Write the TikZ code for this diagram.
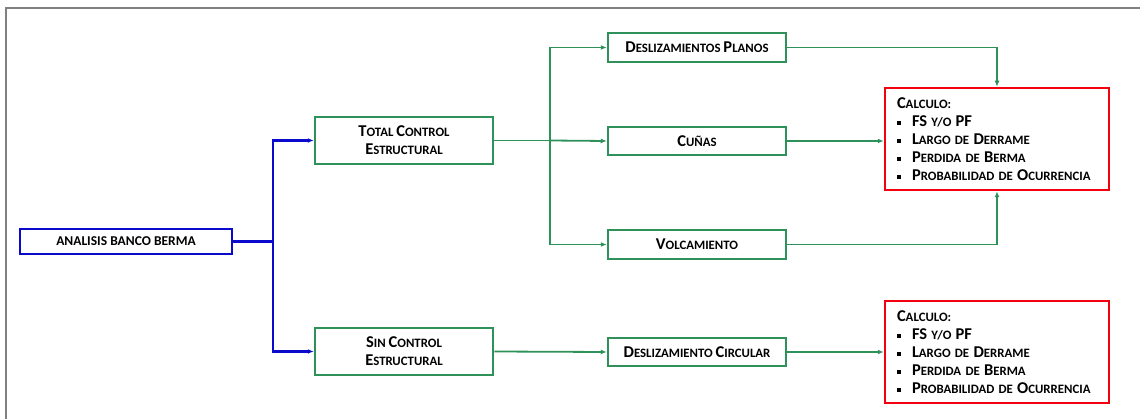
\documentclass[tikz,border=0pt]{standalone}
\usepackage{fontspec}
\setmainfont{Carlito}
\usetikzlibrary{arrows.meta}

\definecolor{verde}{RGB}{46,145,90}
\definecolor{azul}{RGB}{10,10,205}
\definecolor{rojo}{RGB}{245,0,15}
\definecolor{marco}{RGB}{128,128,128}

% initials of the small-caps labels
\newcommand{\ini}[1]{{\fontsize{16.5}{18}\selectfont #1}}
\newcommand{\punto}[1]{\makebox[15pt][l]{\rule[1.5pt]{4pt}{4pt}}#1}

\tikzset{
  caja/.style = {draw = verde, line width = 2.5pt, minimum width = 178pt, inner sep = 0pt,
    align = center, font = \bfseries\fontsize{12.8}{18}\selectfont},
  calculo/.style = {draw = rojo, line width = 2.5pt, text width = 200pt, inner xsep = 12pt,
    minimum height = 102pt, align = left, font = \bfseries\fontsize{12.8}{18}\selectfont},
  flecha/.style = {line width = 1.8pt, -{Latex[length = 6pt, width = 5pt]}}
}

\begin{document}
\begin{tikzpicture}[x = 1pt, y = -1pt]
\useasboundingbox (0,0) rectangle (1140,419);
\draw [marco, line width = 2pt] (6,425) -- (6,8) -- (1146,8);

\node [draw = azul, line width = 2.5pt, minimum width = 212pt, minimum height = 25pt, inner sep = 0pt,
  font = \bfseries\fontsize{13.5}{14}\selectfont] (v1) at (126,241.5) {ANALISIS BANCO BERMA};

\node [caja, minimum height = 47pt] (v2) at (404,140.5) {\ini{T}OTAL \ini{C}ONTROL\\\ini{E}STRUCTURAL};
\node [caja, minimum height = 47pt] (v3) at (404,351.5) {\ini{S}IN \ini{C}ONTROL\\\ini{E}STRUCTURAL};

\node [caja, minimum height = 29pt] (v4) at (697,47.5) {\ini{D}ESLIZAMIENTOS \ini{P}LANOS};
\node [caja, minimum height = 28pt] (v5) at (697,141) {\ini{C}UÑAS};
\node [caja, minimum height = 29pt] (v6) at (697,244.5) {\ini{V}OLCAMIENTO};
\node [caja, minimum height = 28pt] (v7) at (697,352) {\ini{D}ESLIZAMIENTO \ini{C}IRCULAR};

\node [calculo] (v8) at (997,139) {\ini{C}ALCULO:\\
  \punto{\ini{FS} Y/O \ini{PF}}\\
  \punto{\ini{L}ARGO DE \ini{D}ERRAME}\\
  \punto{\ini{P}ERDIDA DE \ini{B}ERMA}\\
  \punto{\ini{P}ROBABILIDAD DE \ini{O}CURRENCIA}};
\node [calculo] (v9) at (997,352) {\ini{C}ALCULO:\\
  \punto{\ini{FS} Y/O \ini{PF}}\\
  \punto{\ini{L}ARGO DE \ini{D}ERRAME}\\
  \punto{\ini{P}ERDIDA DE \ini{B}ERMA}\\
  \punto{\ini{P}ROBABILIDAD DE \ini{O}CURRENCIA}};

% branch points
\coordinate (b1) at (273,241.5);
\coordinate (b2) at (550,140.5);

\draw [azul, line width = 2.2pt] (v1.east) -- (b1);
\draw [azul, flecha, line width = 2.2pt] (b1) |- (v2.west);
\draw [azul, flecha, line width = 2.2pt] (b1) |- (v3.west);

\draw [verde, line width = 1.8pt] (v2.east) -- (b2);
\draw [verde, flecha] (b2) |- (v4.west);
\draw [verde, flecha] (b2) -- (v5.west);
\draw [verde, flecha] (b2) |- (v6.west);
\draw [verde, flecha] (v3.east) -- (v7.west);

\draw [verde, flecha] (v4.east) -| (v8.north);
\draw [verde, flecha] (v5.east) -- (v5.east -| v8.west);
\draw [verde, flecha] (v6.east) -| (v8.south);
\draw [verde, flecha] (v7.east) -- (v7.east -| v9.west);
\end{tikzpicture}
\end{document}
